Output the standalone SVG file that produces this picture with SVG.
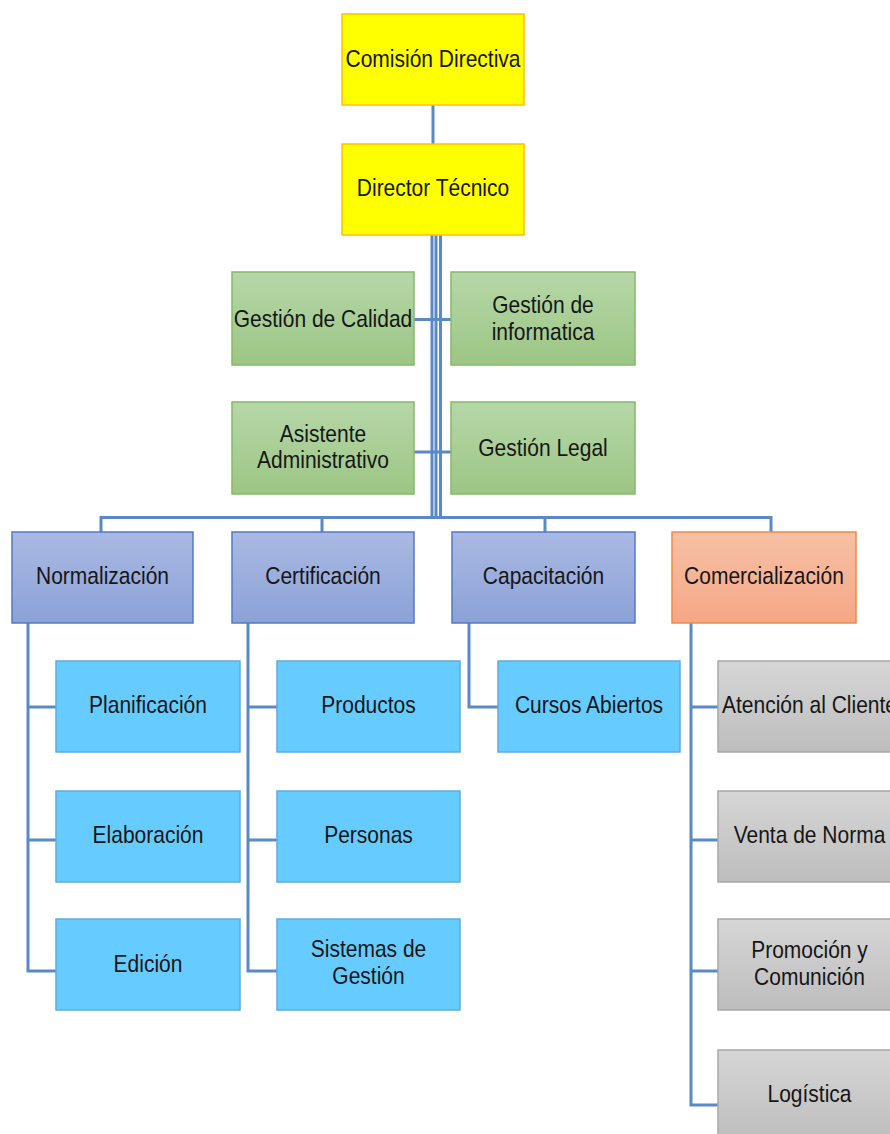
<svg xmlns="http://www.w3.org/2000/svg" width="890" height="1134" viewBox="0 0 890 1134">
<style>
.t{font-family:"Liberation Sans",Arial,sans-serif;font-size:24px;fill:#161616;text-anchor:middle}
.conn{fill:none;stroke:#5A8AC6;stroke-width:3}
.yel{fill:#FFFF00;stroke:#FFC000;stroke-width:1.5}
.grn{fill:url(#gG);stroke:#86B86A;stroke-width:1.5}
.blu{fill:url(#gB);stroke:#5479C8;stroke-width:1.5}
.org{fill:url(#gO);stroke:#F08A4B;stroke-width:1.5}
.cyn{fill:#66CCFF;stroke:#5FAAE0;stroke-width:1.5}
.gry{fill:url(#gY);stroke:#A8A8A8;stroke-width:1.5}
</style>
<defs>
<linearGradient id="gG" x1="0" y1="0" x2="0" y2="1"><stop offset="0" stop-color="#B6D7A8"/><stop offset="1" stop-color="#9CC684"/></linearGradient>
<linearGradient id="gB" x1="0" y1="0" x2="0" y2="1"><stop offset="0" stop-color="#AAB9E2"/><stop offset="1" stop-color="#8BA2D7"/></linearGradient>
<linearGradient id="gO" x1="0" y1="0" x2="0" y2="1"><stop offset="0" stop-color="#F7C0A5"/><stop offset="1" stop-color="#F5A785"/></linearGradient>
<linearGradient id="gY" x1="0" y1="0" x2="0" y2="1"><stop offset="0" stop-color="#D6D6D6"/><stop offset="1" stop-color="#BDBDBD"/></linearGradient>
</defs>
<rect width="890" height="1134" fill="#FFFFFF"/>

<g id="connectors">
<line class="conn" x1="433" y1="105" x2="433" y2="144"/>
<line class="conn" x1="432" y1="235" x2="432" y2="519" stroke-width="4"/>
<line class="conn" x1="436" y1="235" x2="436" y2="519" stroke-width="4"/>
<line class="conn" x1="440.5" y1="235" x2="440.5" y2="519" stroke-width="2.5" stroke="#6C9AD2"/>
<line class="conn" x1="414" y1="319.5" x2="451" y2="319.5"/>
<line class="conn" x1="414" y1="452" x2="451" y2="452"/>
<polyline class="conn" points="101,532 101,517.5 771,517.5 771,532"/>
<line class="conn" x1="322" y1="517.5" x2="322" y2="532"/>
<line class="conn" x1="545" y1="517.5" x2="545" y2="532"/>
<polyline class="conn" points="28,623 28,971 56,971"/>
<line class="conn" x1="28" y1="707" x2="56" y2="707"/>
<line class="conn" x1="28" y1="840" x2="56" y2="840"/>
<polyline class="conn" points="248,623 248,971 277,971"/>
<line class="conn" x1="248" y1="707" x2="277" y2="707"/>
<line class="conn" x1="248" y1="840" x2="277" y2="840"/>
<polyline class="conn" points="469,623 469,707 498,707"/>
<polyline class="conn" points="691,623 691,1105 718,1105"/>
<line class="conn" x1="691" y1="707" x2="718" y2="707"/>
<line class="conn" x1="691" y1="840" x2="718" y2="840"/>
<line class="conn" x1="691" y1="971" x2="718" y2="971"/>
</g>

<g id="comision"><rect class="yel" x="342" y="14" width="182" height="91"/><text class="t" transform="translate(433,67) scale(0.875,1)">Comisión Directiva</text></g>
<g id="director"><rect class="yel" x="342" y="144" width="182" height="91"/><text class="t" transform="translate(433,196) scale(0.875,1)">Director Técnico</text></g>

<g id="calidad"><rect class="grn" x="232" y="272" width="182" height="93"/><text class="t" transform="translate(323,327) scale(0.875,1)">Gestión de Calidad</text></g>
<g id="informatica"><rect class="grn" x="451" y="272" width="184" height="93"/><text class="t" transform="translate(543,313) scale(0.875,1)"><tspan x="0" y="0">Gestión de</tspan><tspan x="0" y="27">informatica</tspan></text></g>
<g id="asistente"><rect class="grn" x="232" y="402" width="182" height="92"/><text class="t" transform="translate(323,442) scale(0.875,1)"><tspan x="0" y="0">Asistente</tspan><tspan x="0" y="26">Administrativo</tspan></text></g>
<g id="legal"><rect class="grn" x="451" y="402" width="184" height="92"/><text class="t" transform="translate(543,456) scale(0.875,1)">Gestión Legal</text></g>

<g id="normalizacion"><rect class="blu" x="12" y="532" width="181" height="91"/><text class="t" transform="translate(102.5,584) scale(0.875,1)">Normalización</text></g>
<g id="certificacion"><rect class="blu" x="232" y="532" width="182" height="91"/><text class="t" transform="translate(323,584) scale(0.875,1)">Certificación</text></g>
<g id="capacitacion"><rect class="blu" x="452" y="532" width="183" height="91"/><text class="t" transform="translate(543.5,584) scale(0.875,1)">Capacitación</text></g>
<g id="comercializacion"><rect class="org" x="672" y="532" width="184" height="91"/><text class="t" transform="translate(764,584) scale(0.875,1)">Comercialización</text></g>

<g id="planificacion"><rect class="cyn" x="56" y="661" width="184" height="91"/><text class="t" transform="translate(148,713) scale(0.875,1)">Planificación</text></g>
<g id="elaboracion"><rect class="cyn" x="56" y="791" width="184" height="91"/><text class="t" transform="translate(148,843) scale(0.875,1)">Elaboración</text></g>
<g id="edicion"><rect class="cyn" x="56" y="919" width="184" height="91"/><text class="t" transform="translate(148,972) scale(0.875,1)">Edición</text></g>

<g id="productos"><rect class="cyn" x="277" y="661" width="183" height="91"/><text class="t" transform="translate(368.5,713) scale(0.875,1)">Productos</text></g>
<g id="personas"><rect class="cyn" x="277" y="791" width="183" height="91"/><text class="t" transform="translate(368.5,843) scale(0.875,1)">Personas</text></g>
<g id="sistemas"><rect class="cyn" x="277" y="919" width="183" height="91"/><text class="t" transform="translate(368.5,957) scale(0.875,1)"><tspan x="0" y="0">Sistemas de</tspan><tspan x="0" y="27">Gestión</tspan></text></g>

<g id="cursos"><rect class="cyn" x="498" y="661" width="182" height="91"/><text class="t" transform="translate(589,713) scale(0.875,1)">Cursos Abiertos</text></g>

<g id="atencion"><rect class="gry" x="718" y="661" width="183" height="91"/><text class="t" transform="translate(809.5,713) scale(0.875,1)">Atención al Cliente</text></g>
<g id="venta"><rect class="gry" x="718" y="791" width="183" height="91"/><text class="t" transform="translate(809.5,843) scale(0.875,1)">Venta de Norma</text></g>
<g id="promocion"><rect class="gry" x="718" y="919" width="183" height="91"/><text class="t" transform="translate(809.5,958) scale(0.875,1)"><tspan x="0" y="0">Promoción y</tspan><tspan x="0" y="27">Comunición</tspan></text></g>
<g id="logistica"><rect class="gry" x="718" y="1050" width="183" height="91"/><text class="t" transform="translate(809.5,1102) scale(0.875,1)">Logística</text></g>
</svg>
